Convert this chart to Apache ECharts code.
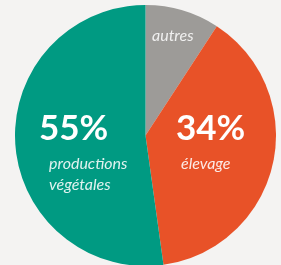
<!DOCTYPE html>
<html>
<head>
<meta charset="utf-8">
<script src="https://cdn.jsdelivr.net/npm/echarts@6/dist/echarts.min.js"></script>
<style>
  html, body { margin: 0; padding: 0; background: #f4f3f2; }
  #chart { width: 281px; height: 265px; }
</style>
</head>
<body>
<div id="chart"></div>
<script>
// parts du revenu (angles as drawn in the picture)
var categories = ['autres', 'élevage', 'productions végétales'];
var values = [9.2, 38.6, 52.2];
var percentLabels = ['', '34%', '55%'];
var colors = ['#9d9b98', '#e85228', '#009a82'];

var chart = echarts.init(document.getElementById('chart'));

var pieData = categories.map(function (name, i) {
    return { name: name, value: values[i], itemStyle: { color: colors[i] } };
});

var bigFont = 'bold 35px Lato, "Open Sans", sans-serif';
var smallFont = 'italic 16px Lato, "Open Sans", sans-serif';
var smallFill = 'rgba(255,255,255,0.88)';

chart.setOption({
    backgroundColor: '#f4f3f2',
    animation: false,
    series: [{
        type: 'pie',
        center: [145.5, 135.5],
        radius: 130.5,
        startAngle: 90,
        clockwise: true,
        label: { show: false },
        labelLine: { show: false },
        itemStyle: { borderWidth: 0 },
        emphasis: { disabled: true },
        data: pieData
    }],
    graphic: {
        elements: [
            // gros pourcentages
            { type: 'text', z: 100, left: 39, top: 111, style: { text: percentLabels[2], fill: '#fff', font: bigFont } },
            { type: 'text', z: 100, left: 176, top: 111, style: { text: percentLabels[1], fill: '#fff', font: bigFont } },
            // libellés
            { type: 'text', z: 100, left: 49, top: 153, style: { text: 'productions\nvégétales', fill: smallFill, font: smallFont, lineHeight: 21 } },
            { type: 'text', z: 100, left: 181, top: 156, style: { text: categories[1], fill: smallFill, font: smallFont } },
            { type: 'text', z: 100, left: 152, top: 28, style: { text: categories[0], fill: 'rgba(255,255,255,0.85)', font: smallFont } }
        ]
    }
});
</script>
</body>
</html>
